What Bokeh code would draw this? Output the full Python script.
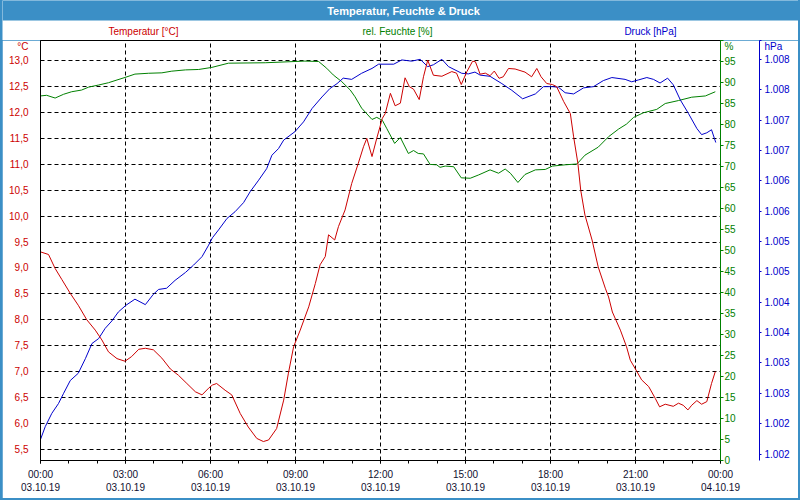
from datetime import datetime
import pandas as pd
from bokeh.plotting import figure
from bokeh.layouts import column
from bokeh.models import (Range1d, LinearAxis, FixedTicker, CustomJSTickFormatter,
                          Label, BoxAnnotation)
from bokeh.embed import file_html
from bokeh.resources import INLINE

# ---------------- data ----------------
DAY = "2019-10-03"

temp_time = ["00:00", "00:17", "00:31", "00:45", "01:03", "01:20", "01:38", "01:56", "02:10", "02:24",
             "02:42", "02:59", "03:13", "03:28", "03:42", "03:59", "04:17", "04:35", "04:52", "05:10",
             "05:28", "05:42", "05:56", "06:04", "06:13", "06:31", "06:45", "07:03", "07:20", "07:38",
             "07:52", "08:03", "08:20", "08:35", "08:45", "08:56", "09:10", "09:28", "09:42", "09:52",
             "10:03", "10:10", "10:23", "10:31", "10:45", "10:59", "11:13", "11:24", "11:31", "11:42",
             "11:52", "12:04", "12:10", "12:21", "12:31", "12:42", "12:52", "13:01", "13:10", "13:22",
             "13:31", "13:40", "13:52", "14:10", "14:31", "14:41", "14:51", "15:03", "15:15", "15:21",
             "15:31", "15:42", "15:52", "16:01", "16:11", "16:20", "16:31", "16:45", "17:06", "17:20",
             "17:31", "17:40", "17:52", "18:04", "18:13", "18:28", "18:42", "18:49", "18:58", "19:04",
             "19:13", "19:28", "19:41", "19:56", "20:03", "20:11", "20:28", "20:41", "20:49", "21:03",
             "21:13", "21:28", "21:42", "21:51", "22:03", "22:20", "22:31", "22:41", "22:51", "22:59",
             "23:10", "23:20", "23:31", "23:41", "23:49"]
temperature = [9.31, 9.26, 8.99, 8.78, 8.51, 8.28, 8.00, 7.80, 7.61, 7.38,
               7.25, 7.20, 7.29, 7.43, 7.45, 7.42, 7.26, 7.05, 6.93, 6.77,
               6.61, 6.55, 6.68, 6.74, 6.77, 6.64, 6.55, 6.19, 5.93, 5.71,
               5.65, 5.68, 5.90, 6.45, 6.97, 7.48, 7.80, 8.25, 8.70, 9.06,
               9.22, 9.64, 9.54, 9.80, 10.12, 10.63, 11.02, 11.34, 11.50, 11.15,
               11.50, 11.89, 11.98, 12.37, 12.13, 12.18, 12.67, 12.50, 12.45, 12.25,
               12.69, 13.01, 12.72, 12.70, 12.79, 12.76, 12.54, 12.79, 12.99, 12.98,
               12.74, 12.76, 12.71, 12.80, 12.66, 12.69, 12.85, 12.84, 12.78, 12.69,
               12.85, 12.69, 12.56, 12.54, 12.50, 12.21, 11.98, 11.53, 11.02, 10.50,
               10.02, 9.54, 9.02, 8.61, 8.44, 8.15, 7.80, 7.48, 7.22, 7.00,
               6.84, 6.71, 6.48, 6.32, 6.37, 6.33, 6.39, 6.35, 6.26, 6.35,
               6.44, 6.37, 6.42, 6.77, 7.00]

hum_time = ["00:00", "00:13", "00:31", "00:49", "01:06", "01:27", "01:42", "02:03", "02:24", "02:42",
            "02:59", "03:20", "03:49", "04:17", "04:38", "05:07", "05:35", "06:03", "06:38", "07:56",
            "09:20", "09:49", "10:06", "10:20", "10:38", "10:56", "11:06", "11:20", "11:42", "11:52",
            "12:04", "12:13", "12:30", "12:42", "12:59", "13:10", "13:20", "13:31", "13:45", "13:59",
            "14:06", "14:17", "14:35", "14:51", "15:10", "15:28", "15:52", "16:10", "16:24", "16:35",
            "16:51", "17:06", "17:28", "17:49", "18:04", "18:31", "18:56", "19:13", "19:41", "20:03",
            "20:24", "20:41", "20:56", "21:17", "21:45", "22:03", "22:31", "22:59", "23:28", "23:49"]
humidity = [86.8, 86.95, 86.3, 87.2, 87.8, 88.2, 88.9, 89.4, 89.95, 90.6,
            91.2, 92.0, 92.2, 92.3, 92.7, 93.0, 93.1, 93.6, 94.6, 94.7,
            95.1, 95.0, 93.4, 91.8, 90.2, 88.2, 86.6, 83.9, 81.2, 81.7,
            81.0, 79.1, 75.5, 76.9, 73.1, 73.8, 73.1, 73.0, 70.5, 70.4,
            69.8, 70.1, 69.95, 67.3, 67.2, 68.0, 69.2, 68.4, 69.4, 68.4,
            66.2, 68.1, 69.2, 69.3, 70.1, 70.4, 70.6, 72.7, 74.6, 77.1,
            78.9, 80.1, 81.7, 82.8, 83.6, 85.0, 85.7, 86.5, 86.8, 87.8]

pres_time = ["00:00", "00:10", "00:24", "00:38", "00:49", "01:03", "01:20", "01:35", "01:49", "02:03",
             "02:17", "02:31", "02:45", "03:01", "03:20", "03:42", "03:59", "04:10", "04:27", "04:45",
             "05:07", "05:24", "05:42", "05:56", "06:04", "06:17", "06:35", "06:52", "07:10", "07:24",
             "07:42", "07:59", "08:10", "08:24", "08:35", "08:59", "09:17", "09:35", "09:56", "10:13",
             "10:28", "10:41", "10:59", "11:20", "11:42", "11:56", "12:28", "12:45", "13:06", "13:24",
             "13:40", "13:52", "14:10", "14:24", "14:52", "15:06", "15:20", "15:31", "15:52", "16:17",
             "16:38", "17:01", "17:28", "17:45", "18:04", "18:17", "18:31", "18:49", "19:10", "19:31",
             "19:52", "20:10", "20:38", "20:52", "21:06", "21:24", "21:38", "21:52", "22:08", "22:20",
             "22:35", "22:52", "23:10", "23:20", "23:31", "23:41", "23:50"]
pressure = [1001.74, 1001.95, 1002.17, 1002.33, 1002.50, 1002.71, 1002.83, 1003.07, 1003.32, 1003.40,
            1003.57, 1003.69, 1003.84, 1003.95, 1004.05, 1003.96, 1004.13, 1004.21, 1004.23, 1004.36,
            1004.49, 1004.61, 1004.75, 1004.94, 1005.06, 1005.19, 1005.38, 1005.49, 1005.64, 1005.82,
            1006.01, 1006.20, 1006.42, 1006.53, 1006.67, 1006.81, 1006.97, 1007.19, 1007.38, 1007.52,
            1007.60, 1007.69, 1007.67, 1007.77, 1007.85, 1007.92, 1007.92, 1007.99, 1007.97, 1008.00,
            1007.88, 1007.91, 1008.00, 1007.88, 1007.77, 1007.76, 1007.79, 1007.74, 1007.72, 1007.60,
            1007.49, 1007.35, 1007.43, 1007.55, 1007.55, 1007.54, 1007.45, 1007.43, 1007.53, 1007.55,
            1007.65, 1007.70, 1007.67, 1007.63, 1007.66, 1007.70, 1007.67, 1007.61, 1007.69, 1007.58,
            1007.33, 1007.11, 1006.86, 1006.76, 1006.79, 1006.84, 1006.63]

TEMP_MIN, TEMP_MAX = 5.284, 13.39
HUM_MIN, HUM_MAX = 0, 100
PRES_MIN, PRES_MAX = 1001.393, 1008.31

temp_ticks = [5.5, 6.0, 6.5, 7.0, 7.5, 8.0, 8.5, 9.0, 9.5, 10.0, 10.5, 11.0, 11.5, 12.0, 12.5, 13.0]
hum_ticks = [0, 5, 10, 15, 20, 25, 30, 35, 40, 45, 50, 55, 60, 65, 70, 75, 80, 85, 90, 95]
pres_ticks = [1001.5, 1002.0, 1002.5, 1003.0, 1003.5, 1004.0, 1004.5, 1005.0, 1005.5,
              1006.0, 1006.5, 1007.0, 1007.5, 1008.0]
hour_major = [0, 3, 6, 9, 12, 15, 18, 21, 24]

title_text = "Temperatur, Feuchte & Druck"
legend_texts = ["Temperatur [°C]", "rel. Feuchte [%]", "Druck [hPa]"]
unit_texts = ["°C", "%", "hPa"]

# ---------------- style ----------------
FONT = "Liberation Sans"
RED = "#cc0000"
GREEN = "#008000"
BLUE = "#0000cc"
BAR = "#3b8fc6"
XLAB = "#101030"
W = 796  # inner width (2px blue window border on both sides)


def to_dt(times):
    return pd.to_datetime([f"{DAY} {t}" for t in times])


base_ms = pd.Timestamp(DAY).value // 10**6
HOUR = 3600 * 1000

# ---------------- header (title bar + legend row) ----------------
head = figure(width=W, height=40, output_backend="svg", toolbar_location=None,
              x_range=Range1d(2, 2 + W), y_range=Range1d(40, 0),
              min_border=0, outline_line_color=None, frame_align=False,
              background_fill_color="white", border_fill_color="white")
head.axis.visible = False
head.grid.visible = False
head.add_layout(BoxAnnotation(top=0, bottom=20, fill_color=BAR, fill_alpha=1, line_alpha=0))


def hlab(text, x, y, color, size="10px", style="normal"):
    head.add_layout(Label(x=x, y=y, text=text, text_color=color, text_align="center",
                          text_baseline="middle", text_font=FONT,
                          text_font_size=size, text_font_style=style))


hlab(title_text, 403, 10, "white", size="11px", style="bold")
hlab(legend_texts[0], 143, 31, RED)
hlab(legend_texts[1], 397, 31, GREEN)
hlab(legend_texts[2], 650, 31, BLUE)

# ---------------- main chart ----------------
p = figure(width=W, height=458, x_axis_type="datetime", output_backend="svg",
           toolbar_location=None, frame_align=False,
           x_range=Range1d(datetime(2019, 10, 3), datetime(2019, 10, 4)),
           y_range=Range1d(TEMP_MIN, TEMP_MAX),
           min_border_left=38, min_border_right=78, min_border_top=0, min_border_bottom=38,
           background_fill_color="white", border_fill_color="white",
           outline_line_color="black", outline_line_width=1)

p.extra_y_ranges = {"hum": Range1d(HUM_MIN, HUM_MAX), "pres": Range1d(PRES_MIN, PRES_MAX)}

# x axis
xt = FixedTicker(ticks=[base_ms + h * HOUR for h in hour_major],
                 minor_ticks=[base_ms + h * HOUR for h in range(25)])
xa = p.xaxis[0]
xa.ticker = xt
xa.formatter = CustomJSTickFormatter(code="""
const d = new Date(tick);
const p2 = (n) => String(n).padStart(2, "0");
return p2(d.getUTCHours()) + ":" + p2(d.getUTCMinutes()) + "\\n" +
       p2(d.getUTCDate()) + "." + p2(d.getUTCMonth() + 1) + "." + String(d.getUTCFullYear()).slice(2);
""")
xa.axis_line_color = "black"
xa.major_tick_line_color = "black"
xa.minor_tick_line_color = "black"
xa.major_tick_out = 3
xa.major_tick_in = 0
xa.minor_tick_out = 3
xa.minor_tick_in = 0
xa.major_label_standoff = 5
xa.major_label_text_font = FONT
xa.major_label_text_font_size = "10px"
xa.major_label_text_color = XLAB

# left temperature axis (top tick carries the unit)
ya = p.yaxis[0]
ya.ticker = FixedTicker(ticks=temp_ticks + [TEMP_MAX], minor_ticks=[])
ya.formatter = CustomJSTickFormatter(
    args=dict(unit=unit_texts[0], top=TEMP_MAX),
    code="return tick >= top - 1e-6 ? unit : tick.toFixed(1).replace('.', ',');")
ya.axis_line_color = "black"
ya.major_tick_out = 0
ya.major_tick_in = 0
ya.minor_tick_out = 0
ya.minor_tick_in = 0
ya.major_label_standoff = 12
ya.major_label_text_font = FONT
ya.major_label_text_font_size = "10px"
ya.major_label_text_color = RED

p.xgrid.ticker = xt
p.ygrid.ticker = FixedTicker(ticks=temp_ticks, minor_ticks=[])
for g in (p.xgrid, p.ygrid):
    g.grid_line_color = "black"
    g.grid_line_dash = "4 3"
    g.grid_line_width = 1

# right humidity axis
ha = LinearAxis(y_range_name="hum", ticker=FixedTicker(ticks=hum_ticks + [HUM_MAX], minor_ticks=[]),
                formatter=CustomJSTickFormatter(
                    args=dict(unit=unit_texts[1], top=HUM_MAX),
                    code="return tick >= top - 1e-6 ? unit : String(tick);"),
                axis_line_color=GREEN, major_tick_line_color=GREEN,
                major_tick_out=3, major_tick_in=0, minor_tick_out=0, minor_tick_in=0,
                major_label_standoff=1, major_label_text_font=FONT,
                major_label_text_font_size="10px", major_label_text_color=GREEN,
                axis_label="\u00a0", axis_label_standoff=7,
                axis_label_text_font_size="10px")
p.add_layout(ha, "right")

# right pressure axis
pa = LinearAxis(y_range_name="pres",
                ticker=FixedTicker(ticks=pres_ticks + [PRES_MAX], minor_ticks=[]),
                formatter=CustomJSTickFormatter(
                    args=dict(unit=unit_texts[2], top=PRES_MAX),
                    code="return tick >= top - 1e-6 ? unit : (Math.round(tick) / 1000).toFixed(3);"),
                axis_line_color=BLUE, major_tick_line_color=BLUE,
                major_tick_out=2, major_tick_in=0, minor_tick_out=0, minor_tick_in=0,
                major_label_standoff=3, major_label_text_font=FONT,
                major_label_text_font_size="10px", major_label_text_color=BLUE)
p.add_layout(pa, "right")

# series
p.line(to_dt(hum_time), humidity, line_color=GREEN, line_width=1, y_range_name="hum")
p.line(to_dt(pres_time), pressure, line_color=BLUE, line_width=1, y_range_name="pres")
p.line(to_dt(temp_time), temperature, line_color=RED, line_width=1)

layout = column(head, p, spacing=0,
                styles={"background-color": BAR, "padding": "0px 2px 2px 2px"})

open("out.html", "w").write(file_html(layout, INLINE))
